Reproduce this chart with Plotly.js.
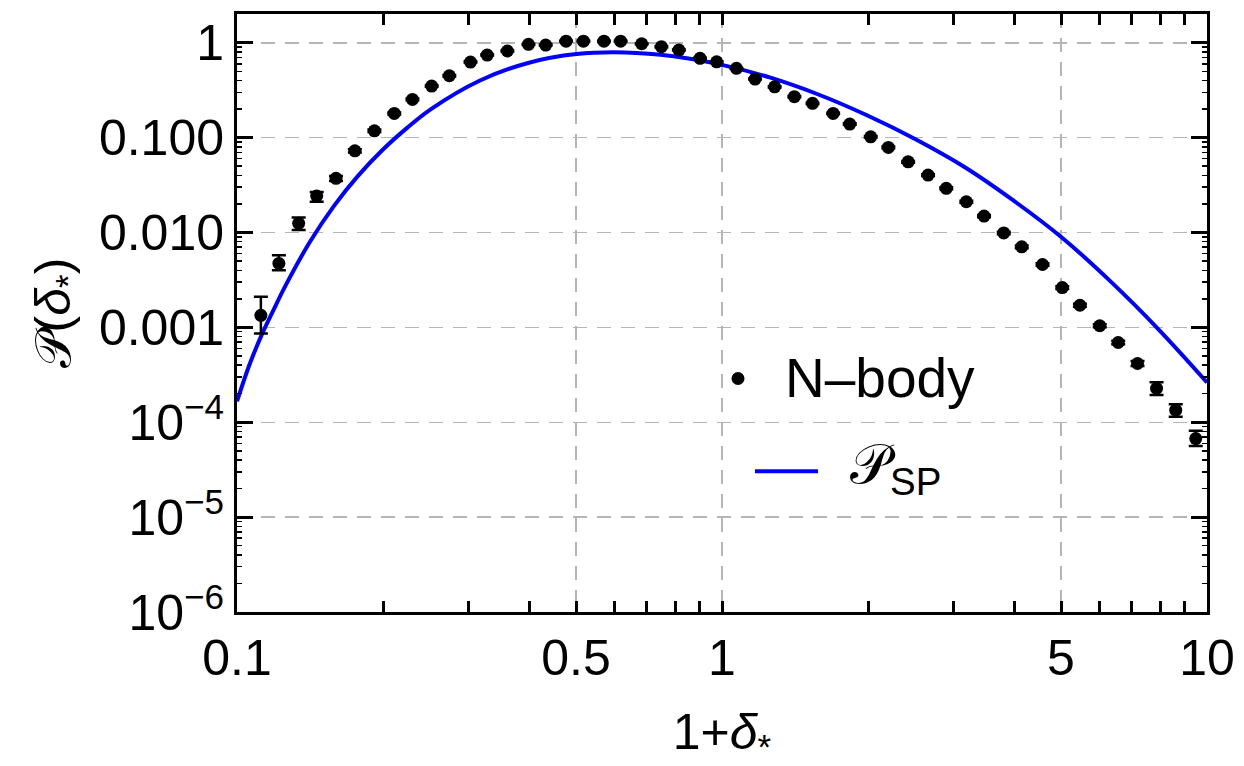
<!DOCTYPE html>
<html>
<head>
<meta charset="utf-8">
<script src="https://cdn.plot.ly/plotly-3.0.1.min.js"></script>
<style>html,body{margin:0;padding:0;background:#fff;}#chart{width:1244px;height:766px;}</style>
</head>
<body>
<div id="chart"></div>
<script>
// N-body measurements: x = 1+delta_*, y = P(delta_*)
const nbodyX = [0.112, 0.122, 0.134, 0.146, 0.160, 0.175, 0.192, 0.211, 0.230, 0.252,
  0.274, 0.303, 0.328, 0.361, 0.399, 0.433, 0.477, 0.518, 0.571, 0.618,
  0.683, 0.750, 0.815, 0.901, 0.975, 1.071, 1.17, 1.284, 1.41, 1.537,
  1.695, 1.834, 2.026, 2.203, 2.42, 2.66, 2.90, 3.19, 3.47, 3.81,
  4.15, 4.58, 5.03, 5.47, 6.01, 6.56, 7.19, 7.87, 8.62, 9.48];
const nbodyY = [1.34e-3, 4.72e-3, 0.0125, 0.0242, 0.0372, 0.0726, 0.118, 0.180, 0.253, 0.349,
  0.449, 0.626, 0.742, 0.818, 0.962, 0.946, 1.04, 1.04, 1.04, 1.04,
  0.976, 0.908, 0.838, 0.685, 0.630, 0.537, 0.414, 0.343, 0.270, 0.230,
  0.180, 0.139, 0.102, 0.0789, 0.0556, 0.0403, 0.0292, 0.0211, 0.0149, 0.0099,
  0.00706, 0.00460, 0.00263, 0.00171, 0.00104, 6.93e-4, 4.16e-4, 2.27e-4, 1.34e-4, 6.73e-5];
const nbodyErrPlus = [7.6e-4, 1.05e-3, 1.9e-3, 2.6e-3, 2.2e-3, 3.0e-3, 3.5e-3, 4.5e-3, 5.0e-3, 6.0e-3,
  7.0e-3, 8.0e-3, 9.0e-3, 9.0e-3, 1.0e-2, 1.0e-2, 1.0e-2, 1.0e-2, 1.0e-2, 1.0e-2,
  1.0e-2, 9.0e-3, 9.0e-3, 8.0e-3, 7.0e-3, 6.0e-3, 5.0e-3, 4.5e-3, 4.0e-3, 3.5e-3,
  3.0e-3, 2.5e-3, 2.0e-3, 1.6e-3, 1.2e-3, 9.0e-4, 7.0e-4, 5.0e-4, 4.0e-4, 3.0e-4,
  2.2e-4, 1.5e-4, 9.0e-5, 6.0e-5, 4.0e-5, 3.0e-5, 2.5e-5, 3.7e-5, 2.1e-5, 1.4e-5];
const nbodyErrMinus = [4.8e-4, 7.1e-4, 1.9e-3, 3.1e-3, 2.2e-3, 3.0e-3, 3.5e-3, 4.5e-3, 5.0e-3, 6.0e-3,
  7.0e-3, 8.0e-3, 9.0e-3, 9.0e-3, 1.0e-2, 1.0e-2, 1.0e-2, 1.0e-2, 1.0e-2, 1.0e-2,
  1.0e-2, 9.0e-3, 9.0e-3, 8.0e-3, 7.0e-3, 6.0e-3, 5.0e-3, 4.5e-3, 4.0e-3, 3.5e-3,
  3.0e-3, 2.5e-3, 2.0e-3, 1.6e-3, 1.2e-3, 9.0e-4, 7.0e-4, 5.0e-4, 4.0e-4, 3.0e-4,
  2.2e-4, 1.5e-4, 9.0e-5, 6.0e-5, 4.0e-5, 3.0e-5, 2.5e-5, 3.3e-5, 2.0e-5, 1.1e-5];

// Saddle-point prediction P_SP
const spX = [0.100, 0.1059, 0.1122, 0.1189, 0.1259, 0.1413, 0.1585, 0.1778, 0.1995, 0.2239,
  0.2512, 0.3162, 0.3981, 0.5012, 0.6310, 0.7943, 1.000, 1.259, 1.585, 1.995,
  2.512, 3.162, 3.981, 5.012, 6.310, 7.943, 10.0];
const spY = [1.66e-4, 3.94e-4, 8.13e-4, 1.52e-3, 2.75e-3, 7.94e-3, 0.0191, 0.0398, 0.0741, 0.126,
  0.200, 0.398, 0.612, 0.759, 0.789, 0.719, 0.585, 0.428, 0.283, 0.171,
  0.0955, 0.0490, 0.0219, 0.00891, 0.00309, 9.55e-4, 2.63e-4];

// Axis ticks
const xTickVals = [0.1, 0.5, 1, 5, 10];
const xTickText = ['0.1', '0.5', '1', '5', '10'];
const xMinorVals = [0.2, 0.3, 0.4, 0.6, 0.7, 0.8, 0.9, 2, 3, 4, 6, 7, 8, 9];
const yTickVals = [1e-6, 1e-5, 1e-4, 1e-3, 1e-2, 1e-1, 1];
const yTickText = ['10<sup>\u22126</sup>', '10<sup>\u22125</sup>', '10<sup>\u22124</sup>', '0.001', '0.010', '0.100', '1'];
const yMinorVals = [];
for (const d of [1e-6, 1e-5, 1e-4, 1e-3, 1e-2, 1e-1, 1]) {
  for (const m of [2, 3, 4, 5, 6, 7, 8, 9]) yMinorVals.push(m * d);
}

const legendNames = ['N\u2013body', '\uD835\uDCAB<sub>SP</sub>'];

const FONT = 'Liberation Sans, Arial, sans-serif';

const traces = [
  {
    x: spX, y: spY, type: 'scatter', mode: 'lines', name: legendNames[1],
    line: {color: '#0000ff', width: 4, shape: 'spline', smoothing: 1},
    showlegend: false, hoverinfo: 'skip'
  },
  {
    x: nbodyX, y: nbodyY, type: 'scatter', mode: 'markers', name: legendNames[0],
    marker: {color: '#000', size: 13},
    error_y: {type: 'data', symmetric: false, array: nbodyErrPlus, arrayminus: nbodyErrMinus,
      color: '#000', thickness: 2.5, width: 7},
    showlegend: false, hoverinfo: 'skip'
  }
];

const gridStyle = {gridcolor: '#b5b5b5', gridwidth: 1.5, griddash: '14px,10px'};

const layout = {
  width: 1244, height: 766,
  margin: {l: 237, r: 37, t: 14, b: 154},
  paper_bgcolor: '#fff', plot_bgcolor: '#fff',
  font: {family: FONT, color: '#000'},
  showlegend: false,
  xaxis: Object.assign({
    type: 'log', range: [-1, 1],
    tickmode: 'array', tickvals: xTickVals, ticktext: xTickText,
    ticks: 'inside', ticklen: 11, tickwidth: 3, tickcolor: '#000',
    showline: true, linewidth: 3, linecolor: '#000', mirror: 'allticks',
    showgrid: true, zeroline: false,
    tickfont: {family: FONT, size: 50, color: '#000'},
    ticklabelstandoff: 0,
    minor: {tickmode: 'array', tickvals: xMinorVals, ticks: 'inside', ticklen: 11, tickwidth: 3, tickcolor: '#000', showgrid: false},
    title: {text: '1+<i>\u03B4</i><sub>*</sub>', font: {family: FONT, size: 50, color: '#000'}, standoff: 72},
    automargin: false
  }, gridStyle),
  yaxis: Object.assign({
    type: 'log', range: [-6, 0.303],
    tickmode: 'array', tickvals: yTickVals, ticktext: yTickText,
    ticks: 'inside', ticklen: 16, tickwidth: 3, tickcolor: '#000',
    showline: true, linewidth: 3, linecolor: '#000', mirror: 'allticks',
    showgrid: true, zeroline: false,
    tickfont: {family: FONT, size: 50, color: '#000'},
    minor: {tickmode: 'array', tickvals: yMinorVals, ticks: 'inside', ticklen: 5, tickwidth: 1.5, tickcolor: '#000', showgrid: false},
    title: {text: '\uD835\uDCAB(<i>\u03B4</i><sub>*</sub>)', font: {family: FONT, size: 50, color: '#000'}, standoff: 13},
    automargin: false
  }, gridStyle),
  shapes: [
    {type: 'line', xref: 'paper', yref: 'paper', x0: 0.534, x1: 0.599, y0: 0.2354, y1: 0.2354,
      line: {color: '#0000ff', width: 4}},
    {type: 'circle', xref: 'paper', yref: 'paper', xsizemode: 'pixel', ysizemode: 'pixel',
      xanchor: 0.5165, yanchor: 0.3905, x0: -6.5, x1: 6.5, y0: -6.5, y1: 6.5,
      fillcolor: '#000', line: {width: 0}}
  ],
  annotations: [
    {xref: 'paper', yref: 'paper', x: 0.5629, y: 0.3905, xanchor: 'left', yanchor: 'middle',
      text: legendNames[0], showarrow: false, font: {family: FONT, size: 55, color: '#000'}},
    {xref: 'paper', yref: 'paper', x: 0.6298, y: 0.24, xanchor: 'left', yanchor: 'middle',
      text: legendNames[1], showarrow: false, font: {family: FONT, size: 55, color: '#000'}}
  ]
};

Plotly.newPlot('chart', traces, layout, {displayModeBar: false, staticPlot: true});
</script>
</body>
</html>
